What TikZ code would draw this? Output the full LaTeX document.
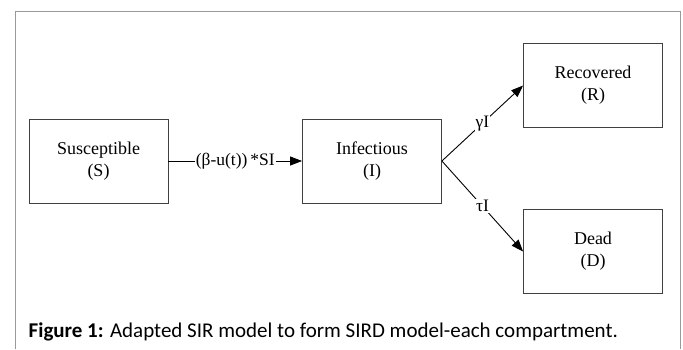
\documentclass[tikz,border=0pt]{standalone}
\usepackage{fontspec}
\setmainfont{Liberation Serif}
\newfontfamily\capfont{Carlito}
\usetikzlibrary{arrows.meta}

\begin{document}
\begin{tikzpicture}[x=1pt, y=-1pt,
	compartment/.style={draw=black!75, line width=0.8pt, minimum width=139pt, minimum height=84pt, inner sep=0pt, align=center, font=\fontsize{18}{22}\selectfont},
	flow/.style={line width=0.9pt, -{Triangle[length=12pt, width=9pt]}},
	rate/.style={fill=white, inner sep=1pt, font=\fontsize{17.5}{20}\selectfont}]
		%%%%% START %%%%%
		
		\useasboundingbox (0, 0) rectangle (683, 349);
		\draw[line width=1.5pt, color=black!40] (15.5, 349) -- (15.5, 11.5) -- (680.5, 11.5) -- (680.5, 349);
		
		\node[compartment] (S) at (98.5, 161) {Susceptible\\(S)};
		\node[compartment] (I) at (372, 161) {Infectious\\(I)};
		\node[compartment] (R) at (593, 85.5) {Recovered\\(R)};
		\node[compartment] (D) at (593, 251.5) {Dead\\(D)};
		
		\draw[flow] (S) -- node[rate] {(β-u(t))\,*SI} (I);
		\draw[flow] (I.east) -- node[rate] {γI} (R.west);
		\draw[flow] (I.east) -- node[rate] {τI} (D.west);
		
		\node[anchor=base west, inner sep=0pt, font=\capfont\fontsize{21}{24}\selectfont] (caption) at (28.5, 337) {\textbf{Figure 1:} Adapted SIR model to form SIRD model-each compartment.};
		
		%%%%% END %%%%%
\end{tikzpicture}
\end{document}
